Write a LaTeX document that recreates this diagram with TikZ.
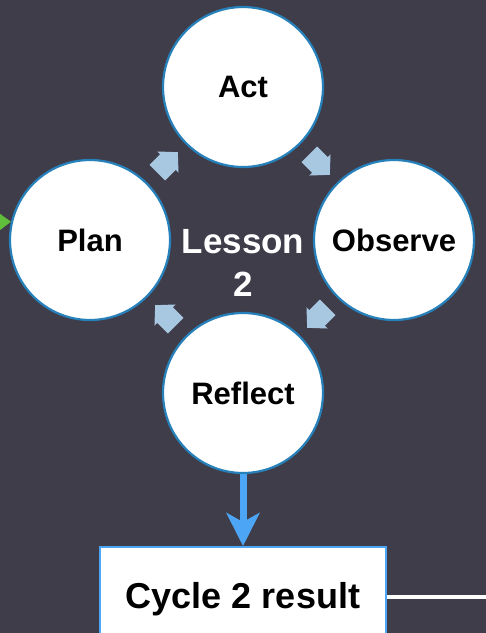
\documentclass[tikz,border=0pt]{standalone}
\usepackage{fontspec}
\setmainfont{Liberation Sans}
\usetikzlibrary{arrows.meta}
\definecolor{bgdark}{RGB}{64,61,74}
\definecolor{ringblue}{RGB}{38,128,186}
\definecolor{stepblue}{RGB}{168,200,226}
\definecolor{flowblue}{RGB}{77,166,245}
\definecolor{entrygreen}{RGB}{96,190,60}
\begin{document}
\begin{tikzpicture}[x=1pt,y=-1pt,
    stage/.style={circle,fill=white,draw=ringblue,line width=2.2pt,minimum size=160pt,inner sep=0pt,font=\bfseries\fontsize{31}{37}\selectfont}]
  \fill[bgdark] (0,0) rectangle (486,633);
  \clip (0,0) rectangle (486,633);
  % the four stages
  \node[stage] (act) at (243,87) {Act};
  \node[stage] (observe) at (394,240) {Observe};
  \node[stage] (reflect) at (243,393) {Reflect};
  \node[stage] (plan) at (90,240) {Plan};
  \node[white,align=center,font=\bfseries\fontsize{35}{43}\selectfont] (lesson) at (243,263) {Lesson\\2};
  % turning arrows
  \path (plan) -- coordinate[midway] (pa) (act);
  \path (act) -- coordinate[midway] (ao) (observe);
  \path (observe) -- coordinate[midway] (or) (reflect);
  \path (reflect) -- coordinate[midway] (rp) (plan);
  \foreach \m/\a in {pa/45,ao/-45,or/-135,rp/135}
    \fill[stepblue,shift={(\m)},rotate=\a] (-13,-11) -- (2,-11) -- (2,-15) -- (16,0) -- (2,15) -- (2,11) -- (-13,11) -- cycle;
  % entry and result
  \coordinate (entry) at (-10,222);
  \draw[entrygreen,line width=3pt,-{Triangle[length=14pt,width=20pt]}] (entry) -- (plan.167);
  \node[draw=flowblue,line width=2pt,fill=white,minimum width=286pt,minimum height=104pt,font=\bfseries\fontsize{36}{42}\selectfont] (result) at (243,599) {Cycle 2 result};
  \draw[flowblue,line width=7pt,-{Stealth[length=33pt,width=33pt,inset=9pt]}] (reflect) -- (result);
  \coordinate (exit) at (490,597);
  \draw[white,line width=4pt] (result.east |- exit) -- (exit);
\end{tikzpicture}
\end{document}
